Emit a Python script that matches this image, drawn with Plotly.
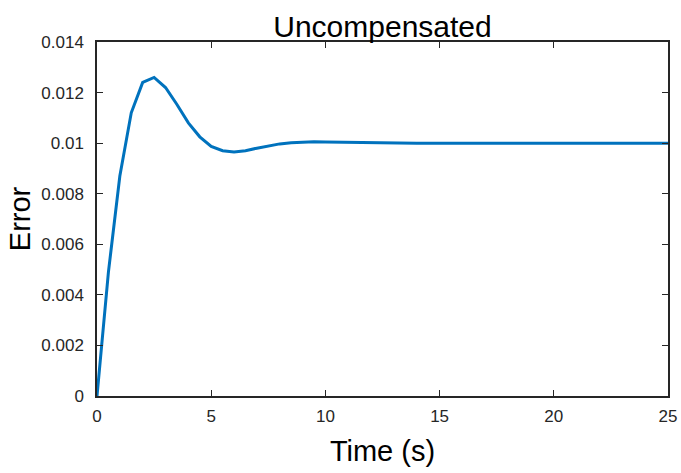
import plotly.graph_objects as go

time_s = [0, 0.5, 1.0, 1.5, 2.0, 2.5, 3.0, 3.5, 4.0, 4.5, 5.0, 5.5, 6.0, 6.5, 7.0,
          7.5, 8.0, 8.5, 9.0, 9.5, 10.0, 10.5, 11.0, 11.5, 12.0, 13.0, 14.0, 15.0,
          16.0, 18.0, 20.0, 22.0, 25.0]
error = [0, 0.0049, 0.0087, 0.0112, 0.0124, 0.0126, 0.0122, 0.01153, 0.0108, 0.01025,
         0.00987, 0.0097, 0.00965, 0.0097, 0.0098, 0.0099, 0.00997, 0.01002, 0.01005,
         0.01006, 0.01005, 0.01004, 0.01003, 0.01002, 0.01001, 0.0100, 0.0100, 0.0100,
         0.0100, 0.0100, 0.0100, 0.0100, 0.0100]

x_ticks = [0, 5, 10, 15, 20, 25]
y_ticks = [0, 0.002, 0.004, 0.006, 0.008, 0.01, 0.012, 0.014]
y_tick_text = ["0", "0.002", "0.004", "0.006", "0.008", "0.01", "0.012", "0.014"]

font = "Liberation Sans, Arial, Helvetica, sans-serif"
axis_color = "#262626"

W, H = 681, 473

fig = go.Figure()
fig.add_trace(go.Scatter(x=time_s, y=error, mode="lines",
                         line=dict(color="#0072BD", width=3), showlegend=False))

fig.update_layout(
    width=W, height=H,
    margin=dict(l=97, r=13, t=42, b=77, autoexpand=False),
    paper_bgcolor="white", plot_bgcolor="white",
    font=dict(family=font, color=axis_color, size=17),
    title=dict(text="Uncompensated", x=382.5 / W, xanchor="center", xref="container",
               yref="container", y=(H - 37) / H, yanchor="bottom",
               font=dict(size=30, color="black", family=font)),
)
fig.update_xaxes(
    range=[0, 25], tickvals=x_ticks, ticks="inside", ticklen=6, tickwidth=1.3,
    tickcolor=axis_color, showline=True, linecolor=axis_color, linewidth=1.5,
    mirror="ticks", showgrid=False, zeroline=False, automargin=False,
    ticklabelstandoff=4,
    tickfont=dict(size=17, color=axis_color),
    title=dict(text="Time (s)", font=dict(size=29, color="black"), standoff=16),
)
fig.update_yaxes(
    range=[0, 0.014], tickvals=y_ticks, ticktext=y_tick_text, ticks="inside", ticklen=6,
    tickwidth=1.3, tickcolor=axis_color, showline=True, linecolor=axis_color, linewidth=1.5,
    mirror="ticks", showgrid=False, zeroline=False, automargin=False,
    ticklabelstandoff=8,
    tickfont=dict(size=17, color=axis_color),
    title=dict(text="Error", font=dict(size=29, color="black"), standoff=2),
)

fig.write_html(
    "out.html",
    config={"displayModeBar": False},
    post_script="document.body.style.margin='0';document.body.style.overflow='hidden';",
)
